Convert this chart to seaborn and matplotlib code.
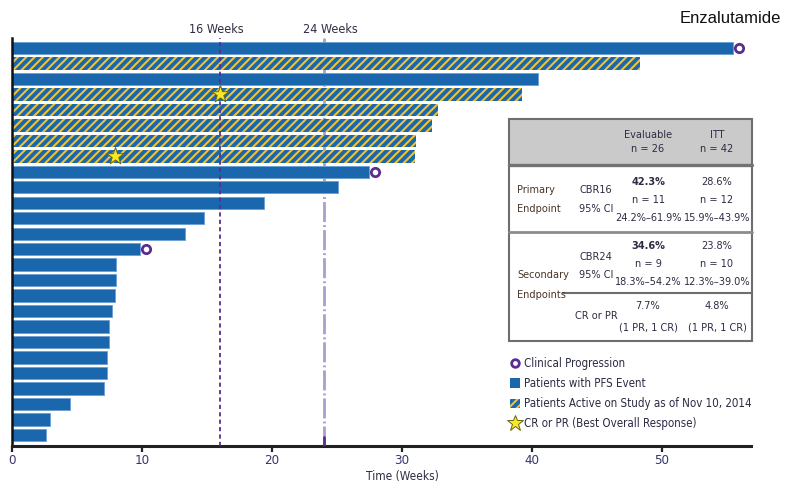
import matplotlib
matplotlib.use("Agg")
import matplotlib.pyplot as plt
import seaborn as sns
import pandas as pd
from matplotlib.patches import Patch, Rectangle
from matplotlib.lines import Line2D
from matplotlib.transforms import blended_transform_factory

# ---- data -------------------------------------------------------------
patients = [f"P{i:02d}" for i in range(1, 27)]
weeks = [55.5, 48.3, 40.5, 39.2, 32.8, 32.3, 31.1, 31.0, 27.5, 25.1,
         19.4, 14.8, 13.3, 9.85, 8.0, 8.0, 7.9, 7.7, 7.5, 7.45,
         7.3, 7.3, 7.1, 4.5, 2.9, 2.6]
status = ["PFS event", "Active", "PFS event", "Active", "Active", "Active",
          "Active", "Active", "PFS event", "PFS event", "PFS event",
          "PFS event", "PFS event", "PFS event", "PFS event", "PFS event",
          "PFS event", "PFS event", "PFS event", "PFS event", "PFS event",
          "PFS event", "PFS event", "PFS event", "PFS event", "PFS event"]
progression_patients = ["P01", "P09", "P14"]
response_patients = ["P04", "P08"]
response_weeks = [16.0, 7.9]
milestones = [16, 24]
milestone_labels = ["16 Weeks", "24 Weeks"]
xticks = [0, 10, 20, 30, 40, 50]

table_header = [["Evaluable", "n = 26"], ["ITT", "n = 42"]]
cbr16_eval = ["42.3%", "n = 11", "24.2%\u201361.9%"]
cbr16_itt = ["28.6%", "n = 12", "15.9%\u201343.9%"]
cbr24_eval = ["34.6%", "n = 9", "18.3%\u201354.2%"]
cbr24_itt = ["23.8%", "n = 10", "12.3%\u201339.0%"]
crpr_eval = ["7.7%", "(1 PR, 1 CR)"]
crpr_itt = ["4.8%", "(1 PR, 1 CR)"]

legend_labels = ["Clinical Progression", "Patients with PFS Event",
                 "Patients Active on Study as of Nov 10, 2014",
                 "CR or PR (Best Overall Response)"]

# ---- style ------------------------------------------------------------
BLUE = "#1b67ae"
YELLOW = "#f1c232"
PURPLE = "#5b2d8e"
LIGHT_PURPLE = "#a99fca"
INK = "#2c2c44"
BROWN = "#4a3526"
COND = ["DejaVu Sans"]
STRETCH = "condensed"

sns.set_theme(style="white")
plt.rcParams["hatch.linewidth"] = 1.5

fig = plt.figure(figsize=(7.86, 4.91), dpi=100)
ax = fig.add_axes([12 / 786, 1 - 446 / 491, (751 - 12) / 786, (446 - 38) / 491])

df = pd.DataFrame({"patient": patients, "weeks": weeks, "status": status})
sns.barplot(data=df, x="weeks", y="patient", hue="status", order=patients,
            hue_order=["PFS event", "Active"],
            palette={"PFS event": BLUE, "Active": BLUE}, saturation=1,
            orient="h", dodge=False, width=0.8, legend=False, ax=ax, zorder=2)

for bar in ax.patches:
    idx = int(round(bar.get_y() + bar.get_height() / 2))
    if status[idx] == "Active":
        bar.set_hatch("////")
        bar.set_edgecolor(YELLOW)
        bar.set_linewidth(0)
    else:
        bar.set_edgecolor("#6a9fd2")
        bar.set_linewidth(0.6)

# clinical progression markers just past the bar end
pos = {p: i for i, p in enumerate(patients)}
prog_y = [pos[p] for p in progression_patients]
prog_x = [weeks[i] + 0.45 for i in prog_y]
sns.scatterplot(x=prog_x, y=prog_y, marker="o", s=36, facecolor="white",
                edgecolor=PURPLE, linewidth=2.0, ax=ax, zorder=5, legend=False)

# best overall response stars
resp_y = [pos[p] for p in response_patients]
sns.scatterplot(x=response_weeks, y=resp_y, marker="*", s=170, color="#f7ea24",
                edgecolor="#6d6410", linewidth=0.7, ax=ax, zorder=6, legend=False)

# milestone reference lines
ax.axvline(milestones[0], color=PURPLE, lw=1.3, ls=(0, (2.3, 1.8)), zorder=4)
ax.axvline(milestones[1], color=LIGHT_PURPLE, lw=2.0, ls=(0, (7.2, 1.1, 0.7, 1.1)), zorder=1)
ax.plot([milestones[1], milestones[1]], [25.15, 25.72], color=PURPLE, lw=2.0, zorder=4)
trans = blended_transform_factory(ax.transData, ax.transAxes)
ax.text(milestones[0] - 0.25, 1.006, milestone_labels[0], transform=trans,
        ha="center", va="bottom", fontsize=9, color=INK, family=COND, fontstretch=STRETCH)
ax.text(milestones[1] + 0.5, 1.006, milestone_labels[1], transform=trans,
        ha="center", va="bottom", fontsize=9, color=INK, family=COND, fontstretch=STRETCH)

ax.set_xlim(0, 56.85)
ax.set_ylim(25.72, -0.65)
ax.set_yticks([])
ax.set_ylabel("")
ax.set_xticks(xticks)
ax.set_xlabel("Time (Weeks)", fontsize=8.6, color=INK, family=COND,
              fontstretch=STRETCH, labelpad=2)
ax.xaxis.label.set_x(30.0 / 56.85)
ax.tick_params(axis="x", bottom=True, direction="out", length=4, width=1.6,
               color="#222222", pad=2, labelsize=9.5, labelcolor="#35356e")
for lab in ax.get_xticklabels():
    lab.set_family(COND)
    lab.set_fontstretch(STRETCH)
for side in ["top", "right"]:
    ax.spines[side].set_visible(False)
ax.spines["left"].set_color("#111111")
ax.spines["left"].set_linewidth(1.8)
ax.spines["bottom"].set_color("#222222")
ax.spines["bottom"].set_linewidth(2.2)

fig.text(730 / 786, 1 - 18.5 / 491, "Enzalutamide", ha="center", va="center",
         fontsize=12, color="#111111", family="Liberation Sans")

# ---- response-rate table (pixel coordinates) ----------------------------
ov = fig.add_axes([0, 0, 1, 1], zorder=10)
ov.set_xlim(0, 786)
ov.set_ylim(491, 0)
ov.axis("off")
ov.patch.set_alpha(0)

ov.add_patch(Rectangle((509, 119), 243, 222, facecolor="white", edgecolor="none"))
ov.add_patch(Rectangle((509, 119), 243, 45, facecolor="#cacaca", edgecolor="none"))
ov.add_patch(Rectangle((509, 119), 243, 222, facecolor="none", edgecolor="#6e6e6e", lw=1.5))
ov.plot([509, 752], [164.5, 164.5], color="#737373", lw=2.4)
ov.plot([509, 752], [232, 232], color="#8c8c8c", lw=2.0)
ov.plot([563, 752], [293, 293], color="#6e6e6e", lw=1.5)

tkw = dict(fontsize=7.8, color=INK, family=COND, fontstretch=STRETCH, va="center")
cx_eval, cx_itt = 648, 717
for (t1, t2), cx in zip(table_header, [cx_eval, cx_itt]):
    ov.text(cx, 135, t1, ha="center", **tkw)
    ov.text(cx, 149.5, t2, ha="center", **tkw)

ov.text(517, 190, "Primary", ha="left", **{**tkw, "color": BROWN})
ov.text(517, 209, "Endpoint", ha="left", **{**tkw, "color": BROWN})
ov.text(579, 190, "CBR16", ha="left", **tkw)
ov.text(579, 209, "95% CI", ha="left", **tkw)
ov.text(517, 275, "Secondary", ha="left", **{**tkw, "color": BROWN})
ov.text(517, 295, "Endpoints", ha="left", **{**tkw, "color": BROWN})
ov.text(579, 257, "CBR24", ha="left", **tkw)
ov.text(579, 275, "95% CI", ha="left", **tkw)
ov.text(575, 316, "CR or PR", ha="left", **tkw)

for vals, cx, bold in [(cbr16_eval, cx_eval, True), (cbr16_itt, cx_itt, False)]:
    for v, yy, k in zip(vals, [182, 200, 218], range(3)):
        ov.text(cx, yy, v, ha="center", fontweight="bold" if (bold and k == 0) else "normal", **tkw)
for vals, cx, bold in [(cbr24_eval, cx_eval, True), (cbr24_itt, cx_itt, False)]:
    for v, yy, k in zip(vals, [246, 264, 282], range(3)):
        ov.text(cx, yy, v, ha="center", fontweight="bold" if (bold and k == 0) else "normal", **tkw)
for vals, cx in [(crpr_eval, cx_eval), (crpr_itt, cx_itt)]:
    for v, yy in zip(vals, [306, 327]):
        ov.text(cx, yy, v, ha="center", **tkw)

# ---- legend -------------------------------------------------------------
handles = [
    Line2D([], [], marker="o", ls="none", markersize=5.5, markerfacecolor="white",
           markeredgecolor=PURPLE, markeredgewidth=2.0),
    Patch(facecolor=BLUE, edgecolor="none"),
    Patch(facecolor=BLUE, edgecolor=YELLOW, hatch="////", lw=0),
    Line2D([], [], marker="*", ls="none", markersize=12, markerfacecolor="#f7ea24",
           markeredgecolor="#6d6410", markeredgewidth=0.7),
]
leg = ax.legend(handles, legend_labels, loc="upper left",
                bbox_to_anchor=(510 / 786, 1 - 357 / 491), bbox_transform=fig.transFigure,
                frameon=False, handlelength=0.9, handleheight=0.9, handletextpad=0.35,
                labelspacing=0.62, borderpad=0, borderaxespad=0,
                prop={"family": COND, "size": 8.3, "stretch": STRETCH})
for t in leg.get_texts():
    t.set_color(INK)

fig.savefig("out.png", dpi=100)
